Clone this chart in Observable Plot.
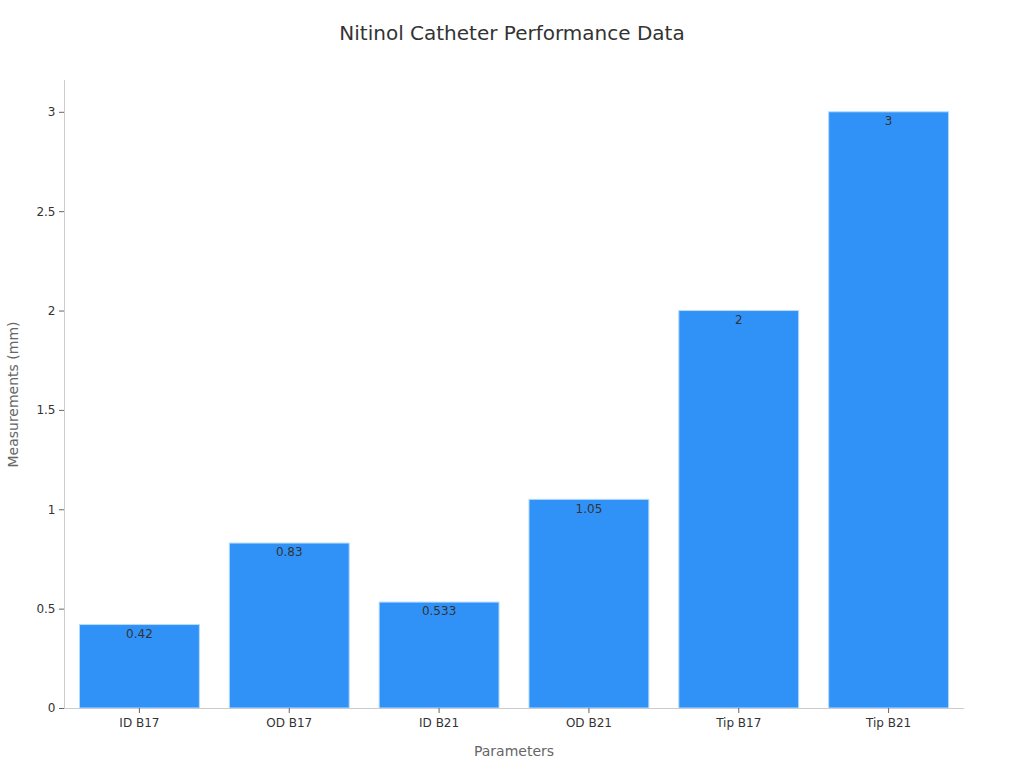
<!DOCTYPE html>
<html>
<head>
<meta charset="utf-8">
<script src="https://cdn.jsdelivr.net/npm/d3@7"></script>
<script src="https://cdn.jsdelivr.net/npm/@observablehq/plot@0.6"></script>
<style>
  html, body { margin: 0; padding: 0; background: #fff; }
  body { width: 1024px; height: 768px; overflow: hidden; font-family: "DejaVu Sans", sans-serif; }
  #title { height: 60px; line-height: 66px; text-align: center; font-size: 20px; color: #333; }
</style>
</head>
<body>
<div id="title">Nitinol Catheter Performance Data</div>
<div id="chart"></div>
<script>
const categories = ["ID B17", "OD B17", "ID B21", "OD B21", "Tip B17", "Tip B21"];
const values = [0.42, 0.83, 0.533, 1.05, 2, 3];
const yTicks = [0, 0.5, 1, 1.5, 2, 2.5, 3];
const yTickLabels = ["0", "0.5", "1", "1.5", "2", "2.5", "3"];

const data = categories.map((c, i) => ({category: c, value: values[i]}));

const chart = Plot.plot({
  width: 1024,
  height: 708,
  marginTop: 20,
  marginBottom: 60,
  marginLeft: 64,
  marginRight: 61,
  style: {fontFamily: "DejaVu Sans, sans-serif", fontSize: "12px", color: "#333", background: "#fff"},
  x: {domain: categories, paddingInner: 0.2, paddingOuter: 0.1, round: false, label: null},
  y: {domain: [0, 3.16], label: null},
  marks: [
    Plot.barY(data, {x: "category", y: "value", fill: "#3092f7", stroke: "#b5daff", strokeWidth: 1, insetLeft: 0.5, insetRight: -0.5}),
    Plot.text(data, {x: "category", y: "value", text: d => String(d.value), dy: 9, fill: "#333", fontSize: 12}),
    Plot.frame({anchor: "left", stroke: "#ccc"}),
    Plot.frame({anchor: "bottom", stroke: "#ccc"}),
    Plot.axisY({ticks: yTicks, tickFormat: d => yTickLabels[yTicks.indexOf(d)], tickSize: 5, tickPadding: 4, stroke: "#666", fill: "#333", fontSize: 12, label: null}),
    Plot.axisX({tickSize: 5, tickPadding: 5, stroke: "#666", fill: "#333", fontSize: 12, label: null}),
    Plot.text(["Measurements (mm)"], {frameAnchor: "left", textAnchor: "middle", dx: -51, rotate: -90, fill: "#666", fontSize: 14}),
    Plot.text(["Parameters"], {frameAnchor: "bottom", dy: 47, fill: "#666", fontSize: 14})
  ]
});
document.getElementById("chart").appendChild(chart);
</script>
</body>
</html>
